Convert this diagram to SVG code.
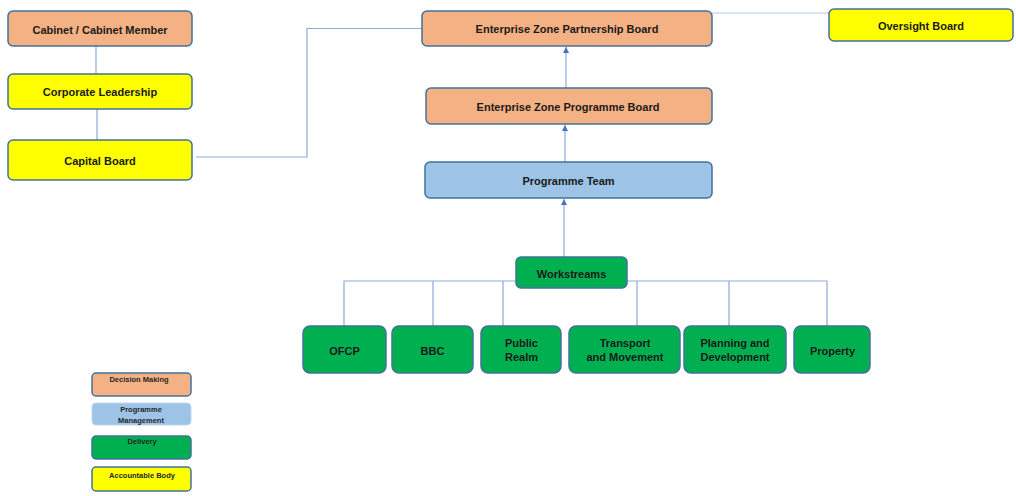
<svg xmlns="http://www.w3.org/2000/svg" width="1016" height="496" viewBox="0 0 1016 496">
<style>
.box{stroke:#41719C;stroke-width:1.5}
.peach{fill:#F4B183}
.yellow{fill:#FFFF00}
.blue{fill:#9DC3E6}
.green{fill:#00B050}
.t{font-family:"Liberation Sans",Arial,sans-serif;font-weight:bold;font-size:11px;fill:#1a1a1a;text-anchor:middle;dominant-baseline:central}
.lt{font-family:"Liberation Sans",Arial,sans-serif;font-weight:bold;font-size:7.5px;fill:#262626;text-anchor:middle;dominant-baseline:central}
.conn{fill:none;stroke:#8EA9DB;stroke-width:1.2}
.conn2{fill:none;stroke:#B4C7E7;stroke-width:1.2}
</style>
<defs>
<marker id="arr" viewBox="0 0 10 10" refX="10" refY="5" markerWidth="6" markerHeight="6" orient="auto" markerUnits="userSpaceOnUse">
<path d="M0,0 L10,5 L0,10 z" fill="#4472C4"/>
</marker>
</defs>
<rect width="1016" height="496" fill="#FFFFFF"/>
<g id="connectors">
<line class="conn" x1="96" y1="46" x2="96" y2="74"/>
<line class="conn" x1="97" y1="109" x2="97" y2="140"/>
<polyline class="conn" points="196,157 307,157 307,28.5 422,28.5"/>
<line class="conn2" x1="712" y1="13" x2="829" y2="13"/>
<line class="conn" x1="566" y1="88" x2="566" y2="47" marker-end="url(#arr)"/>
<line class="conn" x1="565" y1="162" x2="565" y2="125" marker-end="url(#arr)"/>
<line class="conn" x1="564" y1="257" x2="564" y2="199" marker-end="url(#arr)"/>
<polyline class="conn" points="344,326 344,281 827,281 827,326"/>
<line class="conn" x1="433" y1="281" x2="433" y2="326"/>
<line class="conn" x1="503" y1="281" x2="503" y2="326"/>
<line class="conn" x1="637" y1="281" x2="637" y2="326"/>
<line class="conn" x1="729" y1="281" x2="729" y2="326"/>
</g>
<g id="cabinet"><rect class="box peach" x="8" y="11" width="184" height="35" rx="5"/><text class="t" x="100" y="29.5">Cabinet / Cabinet Member</text></g>
<g id="corporate"><rect class="box yellow" x="8" y="74" width="184" height="35" rx="5"/><text class="t" x="100" y="92">Corporate Leadership</text></g>
<g id="capital"><rect class="box yellow" x="8" y="140" width="184" height="40" rx="5"/><text class="t" x="100" y="160.5">Capital Board</text></g>
<g id="partnership"><rect class="box peach" x="422" y="11" width="290" height="35" rx="5"/><text class="t" x="567" y="29">Enterprise Zone Partnership Board</text></g>
<g id="oversight"><rect class="box yellow" x="829" y="9" width="184" height="32" rx="5"/><text class="t" x="921" y="25.5">Oversight Board</text></g>
<g id="programme-board"><rect class="box peach" x="426" y="88" width="286" height="36" rx="5"/><text class="t" x="568" y="107">Enterprise Zone Programme Board</text></g>
<g id="programme-team"><rect class="box blue" x="425" y="162" width="287" height="36" rx="5"/><text class="t" x="568.5" y="180.5">Programme Team</text></g>
<g id="workstreams"><rect class="box green" x="516" y="257" width="111" height="31" rx="5"/><text class="t" x="571.5" y="273.5">Workstreams</text></g>
<g id="ofcp"><rect class="box green" x="303" y="326" width="83" height="47" rx="7"/><text class="t" x="344.5" y="350.5">OFCP</text></g>
<g id="bbc"><rect class="box green" x="392" y="326" width="81" height="47" rx="7"/><text class="t" x="432.5" y="350.5">BBC</text></g>
<g id="public-realm"><rect class="box green" x="481" y="326" width="80" height="47" rx="7"/><text class="t" x="521.5" y="342.5">Public</text><text class="t" x="521.5" y="357">Realm</text></g>
<g id="transport"><rect class="box green" x="569" y="326" width="111" height="47" rx="7"/><text class="t" x="625" y="342.5">Transport</text><text class="t" x="625" y="357">and Movement</text></g>
<g id="planning"><rect class="box green" x="684" y="326" width="102" height="47" rx="7"/><text class="t" x="735" y="342.5">Planning and</text><text class="t" x="735" y="357">Development</text></g>
<g id="property"><rect class="box green" x="794" y="326" width="76" height="47" rx="7"/><text class="t" x="832.5" y="350.5">Property</text></g>
<g id="legend">
<g id="legend-decision"><rect class="box peach" x="92" y="373" width="99" height="23" rx="4"/><text class="lt" x="139" y="379.5">Decision Making</text></g>
<g id="legend-programme"><rect fill="#9DC3E6" stroke="#BDD7EE" stroke-width="1" x="92" y="403" width="99" height="22" rx="4"/><text class="lt" x="141" y="409">Programme</text><text class="lt" x="141" y="420">Management</text></g>
<g id="legend-delivery"><rect class="box green" x="92" y="436" width="99" height="23" rx="4"/><text class="lt" x="142" y="441.5">Delivery</text></g>
<g id="legend-accountable"><rect class="box yellow" x="92" y="467" width="99" height="24" rx="4"/><text class="lt" x="142" y="475.5">Accountable Body</text></g>
</g>
</svg>
